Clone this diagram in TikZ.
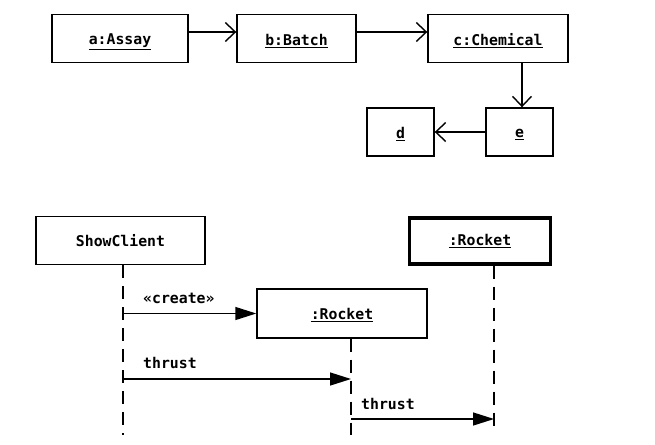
\documentclass[tikz,border=0pt]{standalone}
\usepackage{fontspec}
\setmonofont{DejaVu Sans Mono}
\usetikzlibrary{arrows.meta}
\begin{document}
\begin{tikzpicture}[x=1pt,y=-1pt,
  font=\ttfamily\bfseries\fontsize{14.8}{18}\selectfont,
  obj/.style={draw,line width=1.4pt,inner sep=0pt,minimum height=48pt,text depth=0pt},
  actobj/.style={draw,line width=3.2pt,inner sep=0pt,minimum height=46pt},
  link/.style={line width=1.4pt,-{Straight Barb[length=10pt,width=19pt,line width=1.4pt]}},
  msg/.style={line width=1.4pt,-{Triangle[length=21pt,width=13pt]}},
  life/.style={line width=1.4pt,dash pattern=on 13pt off 8pt},
  lbl/.style={inner sep=0pt,anchor=base west}]
\useasboundingbox (0,0) rectangle (655,444);
% top collaboration
\node[obj,minimum width=136pt] (a) at (120,38.5) {\raisebox{-2pt}{\underline{a:Assay}}};
\node[obj,minimum width=119pt] (b) at (296.5,38.5) {\raisebox{-2pt}{\underline{b:Batch}}};
\node[obj,minimum width=140pt] (c) at (498,38.5) {\raisebox{-2pt}{\underline{c:Chemical}}};
\node[obj,minimum width=67pt] (d) at (400.5,132) {\raisebox{-2pt}{\underline{d}}};
\node[obj,minimum width=67pt] (e) at (519.5,132) {\raisebox{-2pt}{\underline{e}}};
\draw[link] ([yshift=6.5pt]a.east) -- ([yshift=6.5pt]b.west);
\draw[link] ([yshift=6.5pt]b.east) -- ([yshift=6.5pt]c.west);
\coordinate (etop) at ([xshift=2.5pt]e.north);
\draw[link] (c.south -| etop) -- (etop);
\draw[link] (e.west) -- (d.east);
% sequence
\node[obj,minimum width=169pt,minimum height=48pt] (sc) at (120.5,240.5) {ShowClient};
\node[actobj,minimum width=141pt] (r1) at (480,241) {\raisebox{-1pt}{\underline{:Rocket}}};
\node[obj,minimum width=170pt,minimum height=49pt] (r2) at (342,313.5) {\raisebox{-1pt}{\underline{:Rocket}}};
\coordinate (scb) at (123,435);
\coordinate (r1b) at (494,432);
\coordinate (r2b) at (351,435);
\draw[life] (sc.south -| scb) -- (scb);
\draw[life] (r1.south -| r1b) -- (r1b);
\draw[life] (r2.south -| r2b) -- (r2b);
\coordinate (m1) at (123,313.5);
\coordinate (m2s) at (123,379);
\coordinate (m2e) at (351,379);
\coordinate (m3s) at (351,419);
\coordinate (m3e) at (494,419);
\draw[msg] (m1) -- (r2.west);
\draw[msg] (m2s) -- (m2e);
\draw[msg] (m3s) -- (m3e);
\node[lbl] (l1) at (143,303) {«create»};
\node[lbl] (l2) at (143,368) {thrust};
\node[lbl] (l3) at (361,409) {thrust};
\end{tikzpicture}
\end{document}
